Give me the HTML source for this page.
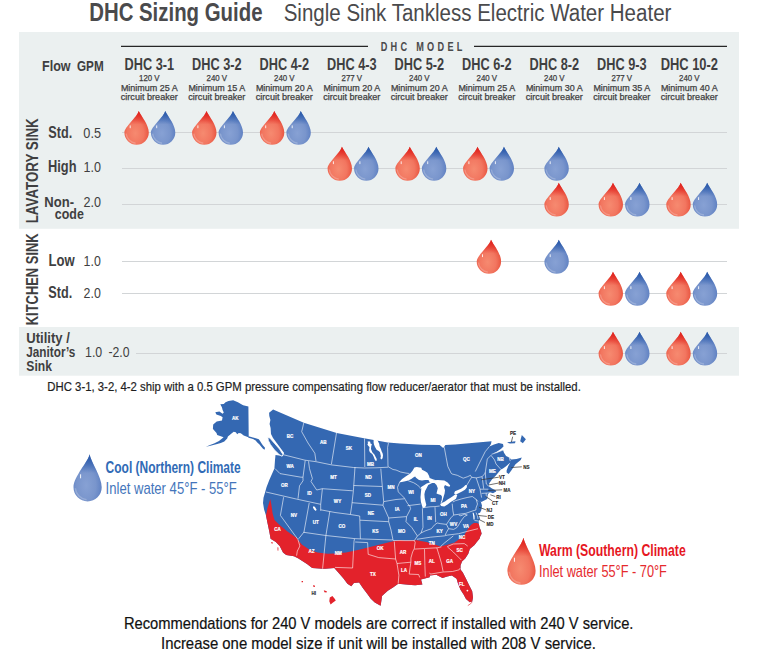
<!DOCTYPE html>
<html><head><meta charset="utf-8"><style>
html,body{margin:0;padding:0;background:#fff;}
svg{display:block;font-family:"Liberation Sans", sans-serif;}
</style></head><body>
<svg width="767" height="653" viewBox="0 0 767 653">

<defs>
<radialGradient id="gR" cx="0.45" cy="0.66" r="0.62">
 <stop offset="0" stop-color="#f68a70"/><stop offset="0.55" stop-color="#f27660"/><stop offset="0.85" stop-color="#ea5a45"/><stop offset="1" stop-color="#df4434"/>
</radialGradient>
<radialGradient id="gB" cx="0.45" cy="0.66" r="0.62">
 <stop offset="0" stop-color="#87a1d4"/><stop offset="0.55" stop-color="#7995cc"/><stop offset="0.85" stop-color="#6384c4"/><stop offset="1" stop-color="#4c72b7"/>
</radialGradient>
<linearGradient id="tR" x1="0" y1="0" x2="0" y2="1">
 <stop offset="0" stop-color="#e2231f" stop-opacity="1"/><stop offset="0.12" stop-color="#e2231f" stop-opacity="0.8"/><stop offset="0.4" stop-color="#e2231f" stop-opacity="0"/>
</linearGradient>
<linearGradient id="tB" x1="0" y1="0" x2="0" y2="1">
 <stop offset="0" stop-color="#2a5aab" stop-opacity="1"/><stop offset="0.12" stop-color="#2a5aab" stop-opacity="0.8"/><stop offset="0.4" stop-color="#2a5aab" stop-opacity="0"/>
</linearGradient>
<g id="dr"><path d="M2.1,-21.7 C1.1,-16 -12.2,-6 -12.2,0 A12.2,12.2 0 0 0 12.2,0 C12.2,-8 5.4,-15 2.1,-21.7 Z" fill="url(#gR)"/><path d="M2.1,-21.7 C1.1,-16 -12.2,-6 -12.2,0 A12.2,12.2 0 0 0 12.2,0 C12.2,-8 5.4,-15 2.1,-21.7 Z" fill="url(#tR)"/><path d="M-10.5,1 A10.8,10.8 0 0 0 -1,10.6" fill="none" stroke="#fff" stroke-opacity="0.22" stroke-width="1.4"/><rect x="-6.9" y="-7.2" width="1" height="2.8" fill="#fff" opacity="0.85"/></g>
<g id="db"><path d="M2.1,-21.7 C1.1,-16 -12.2,-6 -12.2,0 A12.2,12.2 0 0 0 12.2,0 C12.2,-8 5.4,-15 2.1,-21.7 Z" fill="url(#gB)"/><path d="M2.1,-21.7 C1.1,-16 -12.2,-6 -12.2,0 A12.2,12.2 0 0 0 12.2,0 C12.2,-8 5.4,-15 2.1,-21.7 Z" fill="url(#tB)"/><path d="M-10.5,1 A10.8,10.8 0 0 0 -1,10.6" fill="none" stroke="#fff" stroke-opacity="0.22" stroke-width="1.4"/><rect x="-6.9" y="-7.2" width="1" height="2.8" fill="#fff" opacity="0.85"/></g>
<g id="drL"><path d="M1.9,-33.1 C1.2,-26 -14.1,-11 -14.1,0 A14.1,14.1 0 0 0 14.1,0 C14.1,-11 3.4,-25 1.9,-33.1 Z" fill="url(#gR)"/><path d="M1.9,-33.1 C1.2,-26 -14.1,-11 -14.1,0 A14.1,14.1 0 0 0 14.1,0 C14.1,-11 3.4,-25 1.9,-33.1 Z" fill="url(#tR)"/><path d="M-12.3,1 A12.5,12.5 0 0 0 -1,12.4" fill="none" stroke="#fff" stroke-opacity="0.22" stroke-width="1.6"/><rect x="-7.6" y="-13" width="1.1" height="4" fill="#fff" opacity="0.85"/></g>
<g id="dbL"><path d="M1.9,-33.1 C1.2,-26 -14.1,-11 -14.1,0 A14.1,14.1 0 0 0 14.1,0 C14.1,-11 3.4,-25 1.9,-33.1 Z" fill="url(#gB)"/><path d="M1.9,-33.1 C1.2,-26 -14.1,-11 -14.1,0 A14.1,14.1 0 0 0 14.1,0 C14.1,-11 3.4,-25 1.9,-33.1 Z" fill="url(#tB)"/><path d="M-12.3,1 A12.5,12.5 0 0 0 -1,12.4" fill="none" stroke="#fff" stroke-opacity="0.22" stroke-width="1.6"/><rect x="-7.6" y="-13" width="1.1" height="4" fill="#fff" opacity="0.85"/></g>
<clipPath id="landclip"><path d="M273.1,409.5 L303.8,422.8 L336.7,432.9 L364.0,438.3 L387.8,442.5 L400.0,443.4 L421.7,444.8 L439.6,445.1 L443.2,448.0 L445.4,445.1 L455.0,444.4 L491.5,441.3 L491.0,443.9 L489.4,446.5 L494.0,444.5 L498.8,443.1 L503.0,443.9 L503.5,446.5 L500.9,449.1 L496.7,451.7 L493.0,453.5 L497.0,452.5 L503.0,450.1 L504.0,452.7 L506.1,455.9 L509.2,457.4 L511.3,459.5 L516.5,459.0 L521.8,457.4 L520.7,460.0 L515.5,464.2 L511.3,470.5 L508.7,474.1 L506.6,472.5 L506.6,470.5 L508.2,466.3 L510.3,462.5 L506.1,466.3 L503.0,468.4 L500.9,469.4 L498.8,472.0 L495.7,475.7 L492.5,478.8 L489.4,483.0 L488.5,486.0 L492.0,488.5 L495.6,490.3 L496.2,491.6 L493.0,493.2 L489.8,492.2 L487.8,494.5 L487.2,499.0 L481.3,502.0 L480.6,501.0 L482.0,505.6 L481.3,510.2 L480.0,512.8 L478.0,513.4 L480.0,518.6 L478.7,521.2 L478.8,523.7 L479.5,527.3 L480.9,530.8 L481.6,533.7 L480.2,536.6 L479.5,538.7 L476.6,542.3 L474.5,545.0 L469.8,549.0 L468.3,553.8 L465.2,558.4 L462.0,561.6 L460.5,565.5 L460.5,569.4 L462.8,572.5 L466.0,578.8 L469.0,585.0 L472.2,591.2 L473.0,597.5 L472.2,601.4 L469.8,602.2 L466.0,599.0 L463.6,594.4 L460.5,589.7 L458.0,583.4 L456.6,578.8 L451.9,575.6 L447.2,576.4 L442.5,578.0 L436.2,574.8 L430.0,575.6 L429.6,577.3 L421.0,579.5 L422.4,584.5 L415.2,585.2 L411.3,585.0 L403.4,584.3 L398.2,583.7 L393.0,587.6 L387.8,590.8 L382.0,596.0 L381.3,601.3 L380.6,605.8 L374.8,602.6 L370.8,598.7 L367.0,593.5 L363.0,588.2 L359.1,582.4 L353.9,583.0 L351.3,586.3 L347.4,583.7 L343.5,578.5 L339.6,573.9 L334.3,568.0 L325.2,568.7 L322.6,568.7 L312.2,568.0 L307.0,564.1 L298.0,558.3 L294.0,556.3 L286.2,555.0 L283.0,552.4 L279.7,546.0 L275.8,542.0 L270.6,538.8 L269.3,531.6 L267.4,522.5 L266.0,515.4 L264.1,509.5 L263.0,503.0 L263.5,497.8 L265.4,491.3 L266.5,487.2 L269.3,480.0 L274.4,468.6 L275.0,460.0 L275.5,455.0 L283.0,456.0 L284.1,453.0 L280.8,448.5 L276.9,443.2 L273.0,438.0 L271.0,434.1 L270.6,428.0 L269.6,424.0 L270.4,420.0 L269.3,416.0 L269.1,412.8 Z"/></clipPath>
</defs>

<rect x="0" y="0" width="767" height="653" fill="#fff"/>
<rect x="19" y="32" width="720" height="196.8" fill="#ebf0f0"/>
<rect x="19" y="327" width="720" height="48.7" fill="#ebf0f0"/>
<text x="89.2" y="20.6" font-size="25.4" font-weight="bold" fill="#4a4a4c" textLength="173.3" lengthAdjust="spacingAndGlyphs">DHC Sizing Guide</text>
<text x="283.7" y="20.9" font-size="23.1" fill="#4a4a4c" textLength="387.7" lengthAdjust="spacingAndGlyphs">Single Sink Tankless Electric Water Heater</text>
<line x1="121" y1="46.4" x2="368" y2="46.4" stroke="#262626" stroke-width="1.3"/>
<line x1="474" y1="46.4" x2="727" y2="46.4" stroke="#262626" stroke-width="1.3"/>
<text x="380.7" y="50.7" font-size="12.6" font-weight="bold" fill="#4a4a4c" textLength="85.0" lengthAdjust="spacingAndGlyphs" letter-spacing="4.5">DHC MODEL</text>
<text x="42.0" y="70.6" font-size="15" font-weight="bold" fill="#3f3f41" textLength="28.6" lengthAdjust="spacingAndGlyphs">Flow</text>
<text x="77.0" y="70.6" font-size="15" font-weight="bold" fill="#3f3f41" textLength="26.7" lengthAdjust="spacingAndGlyphs">GPM</text>
<text x="149.3" y="69.9" font-size="16" font-weight="bold" fill="#3f3f41" text-anchor="middle" textLength="49.5" lengthAdjust="spacingAndGlyphs">DHC 3-1</text>
<text x="149.3" y="80.9" font-size="8.6" fill="#3f3f41" text-anchor="middle" textLength="20.6" lengthAdjust="spacingAndGlyphs" stroke="#3f3f41" stroke-width="0.25">120 V</text>
<text x="149.3" y="90.7" font-size="8.6" fill="#3f3f41" text-anchor="middle" textLength="56.8" lengthAdjust="spacingAndGlyphs" stroke="#3f3f41" stroke-width="0.25">Minimum 25 A</text>
<text x="149.3" y="99.5" font-size="8.6" fill="#3f3f41" text-anchor="middle" textLength="57.0" lengthAdjust="spacingAndGlyphs" stroke="#3f3f41" stroke-width="0.25">circuit breaker</text>
<text x="216.8" y="69.9" font-size="16" font-weight="bold" fill="#3f3f41" text-anchor="middle" textLength="49.5" lengthAdjust="spacingAndGlyphs">DHC 3-2</text>
<text x="216.8" y="80.9" font-size="8.6" fill="#3f3f41" text-anchor="middle" textLength="20.6" lengthAdjust="spacingAndGlyphs" stroke="#3f3f41" stroke-width="0.25">240 V</text>
<text x="216.8" y="90.7" font-size="8.6" fill="#3f3f41" text-anchor="middle" textLength="56.8" lengthAdjust="spacingAndGlyphs" stroke="#3f3f41" stroke-width="0.25">Minimum 15 A</text>
<text x="216.8" y="99.5" font-size="8.6" fill="#3f3f41" text-anchor="middle" textLength="57.0" lengthAdjust="spacingAndGlyphs" stroke="#3f3f41" stroke-width="0.25">circuit breaker</text>
<text x="284.3" y="69.9" font-size="16" font-weight="bold" fill="#3f3f41" text-anchor="middle" textLength="49.5" lengthAdjust="spacingAndGlyphs">DHC 4-2</text>
<text x="284.3" y="80.9" font-size="8.6" fill="#3f3f41" text-anchor="middle" textLength="20.6" lengthAdjust="spacingAndGlyphs" stroke="#3f3f41" stroke-width="0.25">240 V</text>
<text x="284.3" y="90.7" font-size="8.6" fill="#3f3f41" text-anchor="middle" textLength="56.8" lengthAdjust="spacingAndGlyphs" stroke="#3f3f41" stroke-width="0.25">Minimum 20 A</text>
<text x="284.3" y="99.5" font-size="8.6" fill="#3f3f41" text-anchor="middle" textLength="57.0" lengthAdjust="spacingAndGlyphs" stroke="#3f3f41" stroke-width="0.25">circuit breaker</text>
<text x="351.8" y="69.9" font-size="16" font-weight="bold" fill="#3f3f41" text-anchor="middle" textLength="49.5" lengthAdjust="spacingAndGlyphs">DHC 4-3</text>
<text x="351.8" y="80.9" font-size="8.6" fill="#3f3f41" text-anchor="middle" textLength="20.6" lengthAdjust="spacingAndGlyphs" stroke="#3f3f41" stroke-width="0.25">277 V</text>
<text x="351.8" y="90.7" font-size="8.6" fill="#3f3f41" text-anchor="middle" textLength="56.8" lengthAdjust="spacingAndGlyphs" stroke="#3f3f41" stroke-width="0.25">Minimum 20 A</text>
<text x="351.8" y="99.5" font-size="8.6" fill="#3f3f41" text-anchor="middle" textLength="57.0" lengthAdjust="spacingAndGlyphs" stroke="#3f3f41" stroke-width="0.25">circuit breaker</text>
<text x="419.3" y="69.9" font-size="16" font-weight="bold" fill="#3f3f41" text-anchor="middle" textLength="49.5" lengthAdjust="spacingAndGlyphs">DHC 5-2</text>
<text x="419.3" y="80.9" font-size="8.6" fill="#3f3f41" text-anchor="middle" textLength="20.6" lengthAdjust="spacingAndGlyphs" stroke="#3f3f41" stroke-width="0.25">240 V</text>
<text x="419.3" y="90.7" font-size="8.6" fill="#3f3f41" text-anchor="middle" textLength="56.8" lengthAdjust="spacingAndGlyphs" stroke="#3f3f41" stroke-width="0.25">Minimum 20 A</text>
<text x="419.3" y="99.5" font-size="8.6" fill="#3f3f41" text-anchor="middle" textLength="57.0" lengthAdjust="spacingAndGlyphs" stroke="#3f3f41" stroke-width="0.25">circuit breaker</text>
<text x="486.8" y="69.9" font-size="16" font-weight="bold" fill="#3f3f41" text-anchor="middle" textLength="49.5" lengthAdjust="spacingAndGlyphs">DHC 6-2</text>
<text x="486.8" y="80.9" font-size="8.6" fill="#3f3f41" text-anchor="middle" textLength="20.6" lengthAdjust="spacingAndGlyphs" stroke="#3f3f41" stroke-width="0.25">240 V</text>
<text x="486.8" y="90.7" font-size="8.6" fill="#3f3f41" text-anchor="middle" textLength="56.8" lengthAdjust="spacingAndGlyphs" stroke="#3f3f41" stroke-width="0.25">Minimum 25 A</text>
<text x="486.8" y="99.5" font-size="8.6" fill="#3f3f41" text-anchor="middle" textLength="57.0" lengthAdjust="spacingAndGlyphs" stroke="#3f3f41" stroke-width="0.25">circuit breaker</text>
<text x="554.3" y="69.9" font-size="16" font-weight="bold" fill="#3f3f41" text-anchor="middle" textLength="49.5" lengthAdjust="spacingAndGlyphs">DHC 8-2</text>
<text x="554.3" y="80.9" font-size="8.6" fill="#3f3f41" text-anchor="middle" textLength="20.6" lengthAdjust="spacingAndGlyphs" stroke="#3f3f41" stroke-width="0.25">240 V</text>
<text x="554.3" y="90.7" font-size="8.6" fill="#3f3f41" text-anchor="middle" textLength="56.8" lengthAdjust="spacingAndGlyphs" stroke="#3f3f41" stroke-width="0.25">Minimum 30 A</text>
<text x="554.3" y="99.5" font-size="8.6" fill="#3f3f41" text-anchor="middle" textLength="57.0" lengthAdjust="spacingAndGlyphs" stroke="#3f3f41" stroke-width="0.25">circuit breaker</text>
<text x="621.8" y="69.9" font-size="16" font-weight="bold" fill="#3f3f41" text-anchor="middle" textLength="49.5" lengthAdjust="spacingAndGlyphs">DHC 9-3</text>
<text x="621.8" y="80.9" font-size="8.6" fill="#3f3f41" text-anchor="middle" textLength="20.6" lengthAdjust="spacingAndGlyphs" stroke="#3f3f41" stroke-width="0.25">277 V</text>
<text x="621.8" y="90.7" font-size="8.6" fill="#3f3f41" text-anchor="middle" textLength="56.8" lengthAdjust="spacingAndGlyphs" stroke="#3f3f41" stroke-width="0.25">Minimum 35 A</text>
<text x="621.8" y="99.5" font-size="8.6" fill="#3f3f41" text-anchor="middle" textLength="57.0" lengthAdjust="spacingAndGlyphs" stroke="#3f3f41" stroke-width="0.25">circuit breaker</text>
<text x="689.3" y="69.9" font-size="16" font-weight="bold" fill="#3f3f41" text-anchor="middle" textLength="57.3" lengthAdjust="spacingAndGlyphs">DHC 10-2</text>
<text x="689.3" y="80.9" font-size="8.6" fill="#3f3f41" text-anchor="middle" textLength="20.6" lengthAdjust="spacingAndGlyphs" stroke="#3f3f41" stroke-width="0.25">240 V</text>
<text x="689.3" y="90.7" font-size="8.6" fill="#3f3f41" text-anchor="middle" textLength="56.8" lengthAdjust="spacingAndGlyphs" stroke="#3f3f41" stroke-width="0.25">Minimum 40 A</text>
<text x="689.3" y="99.5" font-size="8.6" fill="#3f3f41" text-anchor="middle" textLength="57.0" lengthAdjust="spacingAndGlyphs" stroke="#3f3f41" stroke-width="0.25">circuit breaker</text>
<line x1="122" y1="132.5" x2="727" y2="132.5" stroke="#d2d5d7" stroke-width="1.1"/>
<line x1="122" y1="168.5" x2="727" y2="168.5" stroke="#d2d5d7" stroke-width="1.1"/>
<line x1="122" y1="204.5" x2="727" y2="204.5" stroke="#d2d5d7" stroke-width="1.1"/>
<line x1="122" y1="261.5" x2="727" y2="261.5" stroke="#d2d5d7" stroke-width="1.1"/>
<line x1="122" y1="293.5" x2="727" y2="293.5" stroke="#d2d5d7" stroke-width="1.1"/>
<line x1="136" y1="353.5" x2="727" y2="353.5" stroke="#d2d5d7" stroke-width="1.1"/>
<text transform="translate(38.3,170.8) rotate(-90)" x="0" y="0" font-size="16" font-weight="bold" fill="#3f3f41" text-anchor="middle" textLength="105" lengthAdjust="spacingAndGlyphs">LAVATORY SINK</text>
<text transform="translate(38.3,279.3) rotate(-90)" x="0" y="0" font-size="16" font-weight="bold" fill="#3f3f41" text-anchor="middle" textLength="92" lengthAdjust="spacingAndGlyphs">KITCHEN SINK</text>
<text x="48.3" y="138.0" font-size="16" font-weight="bold" fill="#3f3f41" textLength="23.9" lengthAdjust="spacingAndGlyphs">Std.</text>
<text x="83.3" y="138.0" font-size="14.7" fill="#3f3f41" textLength="17.7" lengthAdjust="spacingAndGlyphs">0.5</text>
<text x="48.0" y="171.6" font-size="16" font-weight="bold" fill="#3f3f41" textLength="28.5" lengthAdjust="spacingAndGlyphs">High</text>
<text x="83.5" y="171.6" font-size="14.7" fill="#3f3f41" textLength="17.5" lengthAdjust="spacingAndGlyphs">1.0</text>
<text x="44.3" y="207.4" font-size="14.8" font-weight="bold" fill="#3f3f41" textLength="29.7" lengthAdjust="spacingAndGlyphs">Non-</text>
<text x="54.8" y="218.5" font-size="14.8" font-weight="bold" fill="#3f3f41" textLength="29.0" lengthAdjust="spacingAndGlyphs">code</text>
<text x="83.5" y="207.4" font-size="14.7" fill="#3f3f41" textLength="17.5" lengthAdjust="spacingAndGlyphs">2.0</text>
<text x="48.6" y="266.0" font-size="16" font-weight="bold" fill="#3f3f41" textLength="26.2" lengthAdjust="spacingAndGlyphs">Low</text>
<text x="83.6" y="266.0" font-size="14.7" fill="#3f3f41" textLength="17.2" lengthAdjust="spacingAndGlyphs">1.0</text>
<text x="48.3" y="297.9" font-size="16" font-weight="bold" fill="#3f3f41" textLength="23.9" lengthAdjust="spacingAndGlyphs">Std.</text>
<text x="83.6" y="297.9" font-size="14.7" fill="#3f3f41" textLength="17.2" lengthAdjust="spacingAndGlyphs">2.0</text>
<text x="26.3" y="342.9" font-size="14.6" font-weight="bold" fill="#3f3f41" textLength="43.6" lengthAdjust="spacingAndGlyphs">Utility /</text>
<text x="26.3" y="356.6" font-size="14.6" font-weight="bold" fill="#3f3f41" textLength="49.0" lengthAdjust="spacingAndGlyphs">Janitor’s</text>
<text x="26.3" y="371.4" font-size="14.6" font-weight="bold" fill="#3f3f41" textLength="25.6" lengthAdjust="spacingAndGlyphs">Sink</text>
<text x="85.0" y="356.5" font-size="14.7" fill="#3f3f41" textLength="17.2" lengthAdjust="spacingAndGlyphs">1.0</text>
<text x="108.4" y="356.5" font-size="14.7" fill="#3f3f41" textLength="21.1" lengthAdjust="spacingAndGlyphs">-2.0</text>
<use href="#dr" x="136.6" y="132.6"/>
<use href="#db" x="163.1" y="132.6"/>
<use href="#dr" x="204.3" y="132.6"/>
<use href="#db" x="230.8" y="132.6"/>
<use href="#dr" x="272.1" y="132.6"/>
<use href="#db" x="298.6" y="132.6"/>
<use href="#dr" x="339.8" y="168.5"/>
<use href="#db" x="366.3" y="168.5"/>
<use href="#dr" x="407.6" y="168.5"/>
<use href="#db" x="434.1" y="168.5"/>
<use href="#dr" x="475.3" y="168.5"/>
<use href="#db" x="501.8" y="168.5"/>
<use href="#db" x="556.6" y="168.5"/>
<use href="#dr" x="556.6" y="204.4"/>
<use href="#dr" x="610.8" y="204.4"/>
<use href="#db" x="637.3" y="204.4"/>
<use href="#dr" x="678.5" y="204.4"/>
<use href="#db" x="705.0" y="204.4"/>
<use href="#dr" x="488.9" y="261.5"/>
<use href="#db" x="556.6" y="261.5"/>
<use href="#dr" x="610.8" y="293.5"/>
<use href="#db" x="637.3" y="293.5"/>
<use href="#dr" x="678.5" y="293.5"/>
<use href="#db" x="705.0" y="293.5"/>
<use href="#dr" x="610.8" y="353.4"/>
<use href="#db" x="637.3" y="353.4"/>
<use href="#dr" x="678.5" y="353.4"/>
<use href="#db" x="705.0" y="353.4"/>
<text x="47.3" y="391.0" font-size="13" fill="#1e1e1e" textLength="533.5" lengthAdjust="spacingAndGlyphs" stroke="#1e1e1e" stroke-width="0.2">DHC 3-1, 3-2, 4-2 ship with a 0.5 GPM pressure compensating flow reducer/aerator that must be installed.</text>
<use href="#dbL" x="87.6" y="487.3"/>
<use href="#drL" x="521.5" y="570.75"/>
<text x="105.6" y="472.6" font-size="15.6" font-weight="bold" fill="#316bb6" textLength="135.1" lengthAdjust="spacingAndGlyphs">Cool (Northern) Climate</text>
<text x="105.6" y="493.5" font-size="15.7" fill="#4475bb" textLength="131.2" lengthAdjust="spacingAndGlyphs">Inlet water 45°F - 55°F</text>
<text x="539.0" y="556.0" font-size="15.6" font-weight="bold" fill="#e6171f" textLength="146.7" lengthAdjust="spacingAndGlyphs">Warm (Southern) Climate</text>
<text x="539.0" y="577.0" font-size="15.7" fill="#e52a2e" textLength="127.9" lengthAdjust="spacingAndGlyphs">Inlet water 55°F - 70°F</text>
<text x="378.7" y="629.4" font-size="17" fill="#111" text-anchor="middle" textLength="509.5" lengthAdjust="spacingAndGlyphs" stroke="#111" stroke-width="0.2">Recommendations for 240 V models are correct if installed with 240 V service.</text>
<text x="378.5" y="648.7" font-size="17" fill="#111" text-anchor="middle" textLength="435.0" lengthAdjust="spacingAndGlyphs" stroke="#111" stroke-width="0.2">Increase one model size if unit will be installed with 208 V service.</text>
<path d="M233.2,400.2 L237.9,402.3 L243.1,405.2 L248.4,406.4 L248.7,436.5 L249.0,437.4 L243.7,435.4 L240.8,433.2 L238.7,432.9 L237.2,434.3 L235.8,432.2 L233.7,431.8 L231.5,433.6 L227.9,436.5 L227.2,438.6 L224.3,441.5 L220.8,442.9 L217.2,444.0 L214.3,444.7 L211.4,445.4 L206.0,446.8 L210.0,445.0 L214.0,443.5 L219.0,441.0 L223.6,437.2 L221.5,436.5 L217.2,435.0 L216.5,432.9 L213.2,429.3 L212.9,428.7 L213.2,424.6 L216.7,421.6 L222.0,420.5 L222.6,417.2 L220.8,416.1 L216.4,414.6 L215.3,412.3 L219.4,411.4 L222.6,413.7 L223.8,412.6 L222.6,409.9 L222.0,407.6 L220.3,404.3 L223.8,404.0 L225.5,402.3 L228.5,401.1 Z" fill="#3468b2"/>
<path d="M248.5,436.2 L253.0,437.6 L256.6,438.4 L258.8,439.2 L260.2,441.3 L261.6,443.4 L263.0,445.6 L265.0,447.8 L264.6,449.8 L263.0,448.8 L261.3,446.7 L259.5,444.6 L257.3,442.4 L255.6,440.6 L253.0,439.0 L248.5,437.8 Z" fill="#3468b2"/>
<path d="M273.1,409.5 L303.8,422.8 L336.7,432.9 L364.0,438.3 L387.8,442.5 L400.0,443.4 L421.7,444.8 L439.6,445.1 L443.2,448.0 L445.4,445.1 L455.0,444.4 L491.5,441.3 L491.0,443.9 L489.4,446.5 L494.0,444.5 L498.8,443.1 L503.0,443.9 L503.5,446.5 L500.9,449.1 L496.7,451.7 L493.0,453.5 L497.0,452.5 L503.0,450.1 L504.0,452.7 L506.1,455.9 L509.2,457.4 L511.3,459.5 L516.5,459.0 L521.8,457.4 L520.7,460.0 L515.5,464.2 L511.3,470.5 L508.7,474.1 L506.6,472.5 L506.6,470.5 L508.2,466.3 L510.3,462.5 L506.1,466.3 L503.0,468.4 L500.9,469.4 L498.8,472.0 L495.7,475.7 L492.5,478.8 L489.4,483.0 L488.5,486.0 L492.0,488.5 L495.6,490.3 L496.2,491.6 L493.0,493.2 L489.8,492.2 L487.8,494.5 L487.2,499.0 L481.3,502.0 L480.6,501.0 L482.0,505.6 L481.3,510.2 L480.0,512.8 L478.0,513.4 L480.0,518.6 L478.7,521.2 L478.8,523.7 L479.5,527.3 L480.9,530.8 L481.6,533.7 L480.2,536.6 L479.5,538.7 L476.6,542.3 L474.5,545.0 L469.8,549.0 L468.3,553.8 L465.2,558.4 L462.0,561.6 L460.5,565.5 L460.5,569.4 L462.8,572.5 L466.0,578.8 L469.0,585.0 L472.2,591.2 L473.0,597.5 L472.2,601.4 L469.8,602.2 L466.0,599.0 L463.6,594.4 L460.5,589.7 L458.0,583.4 L456.6,578.8 L451.9,575.6 L447.2,576.4 L442.5,578.0 L436.2,574.8 L430.0,575.6 L429.6,577.3 L421.0,579.5 L422.4,584.5 L415.2,585.2 L411.3,585.0 L403.4,584.3 L398.2,583.7 L393.0,587.6 L387.8,590.8 L382.0,596.0 L381.3,601.3 L380.6,605.8 L374.8,602.6 L370.8,598.7 L367.0,593.5 L363.0,588.2 L359.1,582.4 L353.9,583.0 L351.3,586.3 L347.4,583.7 L343.5,578.5 L339.6,573.9 L334.3,568.0 L325.2,568.7 L322.6,568.7 L312.2,568.0 L307.0,564.1 L298.0,558.3 L294.0,556.3 L286.2,555.0 L283.0,552.4 L279.7,546.0 L275.8,542.0 L270.6,538.8 L269.3,531.6 L267.4,522.5 L266.0,515.4 L264.1,509.5 L263.0,503.0 L263.5,497.8 L265.4,491.3 L266.5,487.2 L269.3,480.0 L274.4,468.6 L275.0,460.0 L275.5,455.0 L283.0,456.0 L284.1,453.0 L280.8,448.5 L276.9,443.2 L273.0,438.0 L271.0,434.1 L270.6,428.0 L269.6,424.0 L270.4,420.0 L269.3,416.0 L269.1,412.8 Z" fill="#3468b2"/>
<path d="M267.8,437.4 L269.8,438.0 L275.0,443.9 L279.5,449.1 L282.8,454.3 L282.1,456.3 L278.9,454.3 L274.3,449.8 L270.4,444.5 L268.4,440.6 Z" fill="#3468b2" stroke="#fff" stroke-width="0.8"/>
<path d="M521.8,435.0 L525.9,439.2 L522.8,443.3 L520.2,441.3 Z" fill="#3468b2"/>
<path d="M507.2,442.3 L511.0,441.8 L515.5,441.3 L515.0,443.3 L510.0,443.6 L508.2,443.1 Z" fill="#3468b2"/>
<path d="M262.0,516.0 L266.0,515.4 L267.4,508.2 L270.3,499.1 L271.3,504.3 L272.6,513.4 L274.5,519.9 L279.0,524.5 L287.5,531.6 L296.6,538.1 L301.8,544.6 L309.6,549.8 L317.4,552.4 L327.8,553.7 L335.0,553.5 L346.0,552.4 L359.0,549.8 L372.0,546.5 L385.0,543.3 L393.0,541.3 L400.8,540.0 L405.0,540.4 L416.9,540.2 L426.2,541.9 L434.7,544.4 L440.6,546.5 L447.4,544.8 L454.2,542.7 L459.2,539.3 L464.3,535.1 L468.0,528.7 L470.9,525.1 L473.7,523.0 L476.6,523.0 L478.8,523.7 L490.0,524.0 L490.0,615.0 L255.0,615.0 Z" fill="#e3222b" clip-path="url(#landclip)"/>
<path d="M271.0,542.3 L273.0,542.5 L272.8,543.4 L271.2,543.2 Z" fill="#e3222b"/>
<path d="M277.5,547.3 L278.4,547.6 L278.3,550.8 L277.6,550.6 Z" fill="#e3222b"/>
<path d="M301.6,581.0 L303.0,581.0 L303.0,582.3 L301.6,582.3 Z" fill="#e3222b"/>
<path d="M313.0,585.3 L314.8,585.6 L315.0,587.0 L313.3,586.8 Z" fill="#e3222b"/>
<path d="M323.8,590.3 L326.8,591.2 L326.6,592.6 L324.4,592.2 Z" fill="#e3222b"/>
<path d="M329.8,597.4 L332.4,596.0 L334.5,598.5 L335.8,600.6 L333.0,602.6 L330.6,604.6 L329.3,601.3 Z" fill="#e3222b"/>
<path d="M399.4,481.9 L402.1,478.9 L406.0,476.2 L410.2,473.5 L412.5,470.8 L414.4,467.4 L416.7,467.0 L421.3,467.7 L422.0,469.7 L425.1,471.2 L427.4,472.7 L429.0,475.8 L429.7,478.1 L432.8,479.2 L436.0,480.2 L432.0,480.9 L428.2,480.1 L425.1,480.1 L422.0,480.5 L419.0,480.1 L416.0,477.7 L415.2,476.4 L414.0,477.1 L411.3,478.9 L408.3,480.4 L405.2,481.2 L400.6,482.3 Z" fill="#fff"/>
<path d="M429.0,482.7 L432.8,481.2 L433.5,482.2 L428.2,485.0 L426.7,488.0 L425.1,491.1 L424.4,494.2 L424.7,498.0 L425.5,501.8 L426.3,504.9 L425.1,507.2 L422.8,508.0 L422.0,505.7 L420.9,501.8 L420.5,497.2 L420.9,492.7 L421.3,488.8 L420.9,487.3 L422.0,486.5 L424.4,485.0 L426.7,483.5 Z" fill="#fff"/>
<path d="M428.0,478.6 L433.2,480.2 L437.8,479.9 L444.3,480.5 L447.6,482.5 L450.2,485.4 L449.5,486.7 L446.9,486.1 L445.0,485.1 L444.0,487.0 L445.0,490.3 L444.6,493.6 L443.6,496.8 L442.7,500.1 L442.0,502.0 L441.0,503.3 L440.7,502.7 L441.7,500.1 L442.0,496.8 L441.0,494.9 L438.4,494.2 L436.5,493.6 L437.1,491.0 L437.8,488.3 L436.5,485.1 L434.5,483.1 L431.9,483.1 L429.3,481.8 Z" fill="#fff"/>
<path d="M440.1,504.0 L441.0,506.0 L444.3,506.6 L447.6,504.6 L450.8,502.0 L454.1,500.1 L456.0,498.8 L457.3,494.9 L455.4,494.2 L452.8,496.2 L450.2,498.1 L447.6,499.4 L445.0,501.4 L442.3,502.7 Z" fill="#fff"/>
<path d="M454.0,493.5 L455.0,491.3 L458.0,490.0 L461.0,488.8 L463.5,487.0 L465.5,485.0 L467.0,485.3 L466.8,487.5 L465.0,489.8 L462.0,491.5 L459.0,493.0 L456.0,494.5 Z" fill="#fff"/>
<path d="M373.6,439.5 L377.0,439.5 L378.1,441.6 L379.2,443.7 L379.6,446.3 L380.9,448.9 L381.7,451.4 L382.6,453.2 L383.0,455.3 L382.6,458.3 L381.3,459.6 L380.4,458.3 L380.9,456.2 L380.4,454.0 L380.0,452.3 L378.7,451.0 L376.6,449.7 L374.9,446.7 L374.0,444.6 L373.6,442.4 Z" fill="#fff"/>
<path d="M367.6,441.6 L370.1,441.6 L370.6,443.7 L371.9,444.1 L371.2,446.3 L371.0,448.9 L372.3,452.3 L374.4,454.4 L375.3,456.2 L376.6,458.7 L376.8,460.4 L375.7,460.9 L374.6,459.2 L373.6,456.6 L372.3,454.0 L369.9,452.3 L369.1,450.2 L369.5,447.1 L368.4,445.9 L367.4,444.6 L368.0,443.3 Z" fill="#fff"/>
<path d="M313.2,506.2 L314.8,506.8 L316.6,509.8 L315.8,510.9 L314.0,509.5 L313.0,507.5 Z" fill="#fff"/>
<path d="M472.6,512.8 L473.6,512.8 L474.6,516.0 L474.6,519.5 L473.5,519.5 L473.2,516.0 Z" fill="#fff"/>
<circle cx="467.4" cy="590.6" r="0.9" fill="#fff"/>
<path d="M472.3,601.8 Q471,604 467.8,605.6" fill="none" stroke="#e3222b" stroke-width="0.6"/>
<path d="M303.8,422.8 L301.7,431.7 L308.0,443.0 L314.8,453.2 L316.0,461.1 M336.5,432.9 L331.4,464.3 M364.5,438.5 L364.8,467.0 M388.5,442.8 L387.6,447.3 L388.0,466.6 L393.0,469.5 L396.0,470.0 L400.6,472.0 L406.0,473.1 L409.4,473.5 M443.2,445.2 L444.4,448.0 L446.1,457.2 L447.8,466.4 L451.2,473.3 L452.1,474.0 L457.3,475.3 L463.2,478.2 L467.8,476.6 L470.4,475.3 M466.5,485.7 L470.4,479.2 L471.7,477.3 M470.4,475.3 L471.7,477.3 L476.2,477.9 L482.1,476.7 L485.2,473.1 L487.3,459.0 L491.0,455.3 M489.4,446.5 L485.2,451.7 L480.0,462.0 L475.3,471.5 M491.5,454.3 L497.0,452.5 L503.0,450.1 M491.0,455.3 L494.6,460.0 L496.0,464.0 L500.9,469.4 M509.2,457.4 L510.3,461.1 M283.7,454.8 L305.0,460.2 L316.0,461.7 L331.6,464.9 L353.6,467.5 L364.5,468.0 L376.0,467.8 L388.0,467.2 M275.0,468.6 L280.0,473.6 L300.9,477.2 L303.0,477.2 M305.2,460.5 L303.0,477.2 L303.0,480.8 L299.5,485.8 L298.0,498.7 M266.0,492.0 L296.6,499.1 L320.7,504.3 M308.5,461.3 L309.5,468.6 L312.4,478.6 L311.0,481.5 L316.7,490.0 L322.4,488.7 M322.4,488.7 L320.7,504.3 L320.7,510.8 M322.4,488.7 L352.8,490.8 M355.0,467.0 L353.4,490.8 L351.8,505.0 L350.4,514.5 M320.7,509.8 L335.0,512.5 L350.4,514.5 L359.7,516.0 L360.4,538.9 M309.2,503.0 L303.8,532.9 M283.6,497.2 L280.4,515.4 L297.9,539.4 L299.9,546.0 L297.3,551.1 L296.6,555.7 M298.6,538.8 L303.8,532.3 L325.9,535.5 M329.8,511.5 L325.9,535.5 L322.6,568.7 M325.9,535.5 L354.5,538.6 L360.4,538.9 L393.0,540.0 M354.5,538.6 L354.0,541.3 L352.6,568.0 L335.0,567.4 M355.2,542.0 L367.6,542.6 L368.2,554.3 L378.7,557.6 L395.6,559.0 M394.3,541.5 L395.6,559.0 L397.0,563.5 L398.9,575.2 L398.2,583.5 M388.7,521.7 L391.0,530.0 L393.0,540.0 M393.0,540.5 L405.0,540.6 L414.3,540.6 L415.2,542.3 L414.3,548.6 L412.6,552.0 L410.9,558.0 L410.9,562.2 L397.0,563.5 M360.0,520.2 L388.7,521.7 M352.0,502.7 L383.0,505.2 L388.7,518.0 L388.7,521.7 M353.6,485.5 L382.3,486.5 M380.8,468.6 L382.3,486.5 L383.7,501.6 L383.0,505.2 M383.7,501.6 L396.0,499.5 L404.4,498.8 M399.8,481.9 L397.5,487.3 L398.3,491.9 L402.1,495.7 L404.4,498.0 L405.2,499.5 L407.5,503.4 L409.8,506.1 L410.6,508.7 L409.5,511.0 L406.6,516.6 L406.0,521.7 L411.7,527.4 L417.4,536.0 L414.3,540.6 M388.7,518.0 L406.6,516.6 M407.5,505.7 L420.5,504.1 M408.3,480.8 L413.6,482.7 L417.5,485.0 L419.8,487.3 L420.5,488.8 M422.4,508.3 L423.0,527.4 L421.0,533.0 M422.6,507.8 L430.0,506.8 L435.0,506.6 L439.7,506.0 M435.0,507.2 L435.7,522.2 M417.4,536.0 L421.0,533.0 L425.0,531.0 L431.4,528.7 L434.3,525.1 L437.2,523.0 L440.8,523.7 L446.5,524.4 M452.2,503.6 L452.9,510.8 L453.7,515.0 M453.7,515.0 L450.8,517.9 L447.9,522.2 L446.5,524.4 L448.6,528.7 M448.6,528.7 L453.7,529.4 L457.2,527.3 L459.4,523.7 L461.6,520.1 L464.4,516.5 L467.3,515.0 M453.7,515.0 L458.7,514.3 L465.9,513.3 L473.0,510.8 L475.9,510.0 M458.7,515.0 L460.8,515.8 L464.4,514.3 L467.3,515.0 M448.6,528.7 L446.5,532.3 L445.1,535.1 M417.0,539.3 L430.4,537.2 L444.3,535.9 L447.4,535.1 L458.7,533.7 L469.4,530.8 L478.0,528.7 M453.3,535.9 L449.1,539.3 L444.8,542.7 L440.6,546.5 M414.3,549.1 L424.5,548.5 L437.2,547.8 L441.4,546.9 M447.4,546.5 L453.3,544.0 L464.3,543.6 L467.7,546.1 M447.4,546.9 L453.3,552.0 L458.4,557.1 L461.4,560.1 M436.8,547.8 L438.9,554.6 L441.4,563.0 L443.1,571.5 M424.5,549.1 L424.9,565.6 L425.3,576.6 M410.9,562.2 L410.1,567.3 L409.2,574.1 L418.6,574.5 L419.8,577.5 M429.6,572.8 L430.4,574.1 L443.1,572.0 L452.5,571.5 L459.2,569.8 L460.1,568.1 M452.8,502.0 L455.4,500.7 L461.9,498.8 L467.1,497.5 L472.3,496.5 L476.2,499.4 L478.0,501.4 M476.2,499.4 L477.5,504.0 L476.0,508.0 L475.9,510.0 M476.2,477.9 L480.0,489.2 L481.6,497.6 M482.1,476.7 L483.7,488.7 M485.2,472.5 L486.3,484.0 L488.5,486.0 M480.0,489.2 L488.4,489.2 M481.6,493.4 L489.4,492.9 M486.2,493.0 L486.2,497.0 M476.0,512.5 L477.5,516.0 L478.0,519.0 M474.5,520.5 L478.5,521.0" fill="none" stroke="#fff" stroke-width="0.7" stroke-linejoin="round" opacity="0.85"/>
<path d="M512.7,436.7 L511.4,442.0 M511.3,467.5 L521.8,466.8 M481.1,479.8 L498.8,477.2 M488.4,485.0 L498.8,483.0 M488.1,490.5 L502.2,489.8 M490.4,494.8 L495.3,496.5 M485.2,496.1 L492.4,501.0 M479.0,507.2 L485.9,509.8 M477.7,515.4 L486.8,516.4 M478.7,519.3 L484.9,522.5" fill="none" stroke="#333" stroke-width="0.7"/>
<text x="235.2" y="420.1" font-size="5.4" font-weight="bold" fill="#fff" stroke="#fff" stroke-width="0.22" text-anchor="middle" textLength="6.55" lengthAdjust="spacingAndGlyphs">AK</text>
<text x="290.1" y="438" font-size="5.4" font-weight="bold" fill="#fff" stroke="#fff" stroke-width="0.22" text-anchor="middle" textLength="6.55" lengthAdjust="spacingAndGlyphs">BC</text>
<text x="323.3" y="444" font-size="5.4" font-weight="bold" fill="#fff" stroke="#fff" stroke-width="0.22" text-anchor="middle" textLength="6.55" lengthAdjust="spacingAndGlyphs">AB</text>
<text x="349" y="450" font-size="5.4" font-weight="bold" fill="#fff" stroke="#fff" stroke-width="0.22" text-anchor="middle" textLength="6.30" lengthAdjust="spacingAndGlyphs">SK</text>
<text x="370.4" y="465.9" font-size="5.4" font-weight="bold" fill="#fff" stroke="#fff" stroke-width="0.22" text-anchor="middle" textLength="7.05" lengthAdjust="spacingAndGlyphs">MB</text>
<text x="418.5" y="457" font-size="5.4" font-weight="bold" fill="#fff" stroke="#fff" stroke-width="0.22" text-anchor="middle" textLength="6.80" lengthAdjust="spacingAndGlyphs">ON</text>
<text x="466.5" y="461" font-size="5.4" font-weight="bold" fill="#fff" stroke="#fff" stroke-width="0.22" text-anchor="middle" textLength="6.80" lengthAdjust="spacingAndGlyphs">QC</text>
<text x="500.4" y="461" font-size="5.4" font-weight="bold" fill="#fff" stroke="#fff" stroke-width="0.22" text-anchor="middle" textLength="6.55" lengthAdjust="spacingAndGlyphs">NB</text>
<text x="492.5" y="473" font-size="5.4" font-weight="bold" fill="#fff" stroke="#fff" stroke-width="0.22" text-anchor="middle" textLength="6.80" lengthAdjust="spacingAndGlyphs">ME</text>
<text x="290.1" y="467.7" font-size="5.4" font-weight="bold" fill="#fff" stroke="#fff" stroke-width="0.22" text-anchor="middle" textLength="7.31" lengthAdjust="spacingAndGlyphs">WA</text>
<text x="284.4" y="487" font-size="5.4" font-weight="bold" fill="#fff" stroke="#fff" stroke-width="0.22" text-anchor="middle" textLength="6.80" lengthAdjust="spacingAndGlyphs">OR</text>
<text x="309.6" y="495.3" font-size="5.4" font-weight="bold" fill="#fff" stroke="#fff" stroke-width="0.22" text-anchor="middle" textLength="4.54" lengthAdjust="spacingAndGlyphs">ID</text>
<text x="333.6" y="479.2" font-size="5.4" font-weight="bold" fill="#fff" stroke="#fff" stroke-width="0.22" text-anchor="middle" textLength="6.55" lengthAdjust="spacingAndGlyphs">MT</text>
<text x="337.5" y="502.9" font-size="5.4" font-weight="bold" fill="#fff" stroke="#fff" stroke-width="0.22" text-anchor="middle" textLength="7.31" lengthAdjust="spacingAndGlyphs">WY</text>
<text x="294" y="516.9" font-size="5.4" font-weight="bold" fill="#fff" stroke="#fff" stroke-width="0.22" text-anchor="middle" textLength="6.30" lengthAdjust="spacingAndGlyphs">NV</text>
<text x="315.8" y="523.8" font-size="5.4" font-weight="bold" fill="#fff" stroke="#fff" stroke-width="0.22" text-anchor="middle" textLength="6.05" lengthAdjust="spacingAndGlyphs">UT</text>
<text x="341.8" y="528" font-size="5.4" font-weight="bold" fill="#fff" stroke="#fff" stroke-width="0.22" text-anchor="middle" textLength="6.80" lengthAdjust="spacingAndGlyphs">CO</text>
<text x="277.5" y="531" font-size="5.4" font-weight="bold" fill="#fff" stroke="#fff" stroke-width="0.22" text-anchor="middle" textLength="6.55" lengthAdjust="spacingAndGlyphs">CA</text>
<text x="311.6" y="553" font-size="5.4" font-weight="bold" fill="#fff" stroke="#fff" stroke-width="0.22" text-anchor="middle" textLength="6.05" lengthAdjust="spacingAndGlyphs">AZ</text>
<text x="338.3" y="555" font-size="5.4" font-weight="bold" fill="#fff" stroke="#fff" stroke-width="0.22" text-anchor="middle" textLength="7.05" lengthAdjust="spacingAndGlyphs">NM</text>
<text x="368.4" y="479" font-size="5.4" font-weight="bold" fill="#fff" stroke="#fff" stroke-width="0.22" text-anchor="middle" textLength="6.55" lengthAdjust="spacingAndGlyphs">ND</text>
<text x="368" y="497" font-size="5.4" font-weight="bold" fill="#fff" stroke="#fff" stroke-width="0.22" text-anchor="middle" textLength="6.30" lengthAdjust="spacingAndGlyphs">SD</text>
<text x="370.8" y="515" font-size="5.4" font-weight="bold" fill="#fff" stroke="#fff" stroke-width="0.22" text-anchor="middle" textLength="6.30" lengthAdjust="spacingAndGlyphs">NE</text>
<text x="375.5" y="532.5" font-size="5.4" font-weight="bold" fill="#fff" stroke="#fff" stroke-width="0.22" text-anchor="middle" textLength="6.30" lengthAdjust="spacingAndGlyphs">KS</text>
<text x="380.2" y="550" font-size="5.4" font-weight="bold" fill="#fff" stroke="#fff" stroke-width="0.22" text-anchor="middle" textLength="6.80" lengthAdjust="spacingAndGlyphs">OK</text>
<text x="372.8" y="576" font-size="5.4" font-weight="bold" fill="#fff" stroke="#fff" stroke-width="0.22" text-anchor="middle" textLength="5.80" lengthAdjust="spacingAndGlyphs">TX</text>
<text x="390.9" y="489" font-size="5.4" font-weight="bold" fill="#fff" stroke="#fff" stroke-width="0.22" text-anchor="middle" textLength="7.05" lengthAdjust="spacingAndGlyphs">MN</text>
<text x="397.3" y="510.8" font-size="5.4" font-weight="bold" fill="#fff" stroke="#fff" stroke-width="0.22" text-anchor="middle" textLength="4.54" lengthAdjust="spacingAndGlyphs">IA</text>
<text x="401.6" y="533.2" font-size="5.4" font-weight="bold" fill="#fff" stroke="#fff" stroke-width="0.22" text-anchor="middle" textLength="7.31" lengthAdjust="spacingAndGlyphs">MO</text>
<text x="403" y="554.2" font-size="5.4" font-weight="bold" fill="#fff" stroke="#fff" stroke-width="0.22" text-anchor="middle" textLength="6.55" lengthAdjust="spacingAndGlyphs">AR</text>
<text x="404" y="572" font-size="5.4" font-weight="bold" fill="#fff" stroke="#fff" stroke-width="0.22" text-anchor="middle" textLength="6.05" lengthAdjust="spacingAndGlyphs">LA</text>
<text x="411" y="494.3" font-size="5.4" font-weight="bold" fill="#fff" stroke="#fff" stroke-width="0.22" text-anchor="middle" textLength="5.54" lengthAdjust="spacingAndGlyphs">WI</text>
<text x="415.7" y="520.8" font-size="5.4" font-weight="bold" fill="#fff" stroke="#fff" stroke-width="0.22" text-anchor="middle" textLength="4.03" lengthAdjust="spacingAndGlyphs">IL</text>
<text x="433" y="502" font-size="5.4" font-weight="bold" fill="#fff" stroke="#fff" stroke-width="0.22" text-anchor="middle" textLength="5.04" lengthAdjust="spacingAndGlyphs">MI</text>
<text x="429.6" y="520" font-size="5.4" font-weight="bold" fill="#fff" stroke="#fff" stroke-width="0.22" text-anchor="middle" textLength="4.54" lengthAdjust="spacingAndGlyphs">IN</text>
<text x="443.5" y="515.6" font-size="5.4" font-weight="bold" fill="#fff" stroke="#fff" stroke-width="0.22" text-anchor="middle" textLength="6.80" lengthAdjust="spacingAndGlyphs">OH</text>
<text x="439.6" y="533.2" font-size="5.4" font-weight="bold" fill="#fff" stroke="#fff" stroke-width="0.22" text-anchor="middle" textLength="6.30" lengthAdjust="spacingAndGlyphs">KY</text>
<text x="431.7" y="545.2" font-size="5.4" font-weight="bold" fill="#fff" stroke="#fff" stroke-width="0.22" text-anchor="middle" textLength="6.05" lengthAdjust="spacingAndGlyphs">TN</text>
<text x="418" y="565" font-size="5.4" font-weight="bold" fill="#fff" stroke="#fff" stroke-width="0.22" text-anchor="middle" textLength="6.80" lengthAdjust="spacingAndGlyphs">MS</text>
<text x="431.7" y="562.8" font-size="5.4" font-weight="bold" fill="#fff" stroke="#fff" stroke-width="0.22" text-anchor="middle" textLength="6.05" lengthAdjust="spacingAndGlyphs">AL</text>
<text x="449.6" y="562.8" font-size="5.4" font-weight="bold" fill="#fff" stroke="#fff" stroke-width="0.22" text-anchor="middle" textLength="6.80" lengthAdjust="spacingAndGlyphs">GA</text>
<text x="461.8" y="586.2" font-size="5.4" font-weight="bold" fill="#fff" stroke="#fff" stroke-width="0.22" text-anchor="middle" textLength="5.54" lengthAdjust="spacingAndGlyphs">FL</text>
<text x="459.7" y="552" font-size="5.4" font-weight="bold" fill="#fff" stroke="#fff" stroke-width="0.22" text-anchor="middle" textLength="6.30" lengthAdjust="spacingAndGlyphs">SC</text>
<text x="462" y="539" font-size="5.4" font-weight="bold" fill="#fff" stroke="#fff" stroke-width="0.22" text-anchor="middle" textLength="6.55" lengthAdjust="spacingAndGlyphs">NC</text>
<text x="466" y="527.8" font-size="5.4" font-weight="bold" fill="#fff" stroke="#fff" stroke-width="0.22" text-anchor="middle" textLength="5.96" lengthAdjust="spacingAndGlyphs">VA</text>
<text x="453.5" y="526.2" font-size="5.4" font-weight="bold" fill="#fff" stroke="#fff" stroke-width="0.22" text-anchor="middle" textLength="7.31" lengthAdjust="spacingAndGlyphs">WV</text>
<text x="464" y="507.8" font-size="5.4" font-weight="bold" fill="#fff" stroke="#fff" stroke-width="0.22" text-anchor="middle" textLength="5.96" lengthAdjust="spacingAndGlyphs">PA</text>
<text x="472" y="492.7" font-size="5.4" font-weight="bold" fill="#fff" stroke="#fff" stroke-width="0.22" text-anchor="middle" textLength="6.30" lengthAdjust="spacingAndGlyphs">NY</text>
<text x="513" y="435.2" font-size="5.4" font-weight="bold" fill="#2a2a2a" stroke="#2a2a2a" stroke-width="0.15" text-anchor="middle" textLength="6.05" lengthAdjust="spacingAndGlyphs">PE</text>
<text x="526.4" y="469" font-size="5.4" font-weight="bold" fill="#2a2a2a" stroke="#2a2a2a" stroke-width="0.15" text-anchor="middle" textLength="6.30" lengthAdjust="spacingAndGlyphs">NS</text>
<text x="502" y="478.5" font-size="5.4" font-weight="bold" fill="#2a2a2a" stroke="#2a2a2a" stroke-width="0.15" text-anchor="middle" textLength="5.80" lengthAdjust="spacingAndGlyphs">VT</text>
<text x="502" y="485.2" font-size="5.4" font-weight="bold" fill="#2a2a2a" stroke="#2a2a2a" stroke-width="0.15" text-anchor="middle" textLength="6.55" lengthAdjust="spacingAndGlyphs">NH</text>
<text x="507.1" y="492.3" font-size="5.4" font-weight="bold" fill="#2a2a2a" stroke="#2a2a2a" stroke-width="0.15" text-anchor="middle" textLength="7.05" lengthAdjust="spacingAndGlyphs">MA</text>
<text x="498.5" y="498.8" font-size="5.4" font-weight="bold" fill="#2a2a2a" stroke="#2a2a2a" stroke-width="0.15" text-anchor="middle" textLength="4.54" lengthAdjust="spacingAndGlyphs">RI</text>
<text x="495" y="505" font-size="5.4" font-weight="bold" fill="#2a2a2a" stroke="#2a2a2a" stroke-width="0.15" text-anchor="middle" textLength="6.05" lengthAdjust="spacingAndGlyphs">CT</text>
<text x="489.3" y="511.8" font-size="5.4" font-weight="bold" fill="#2a2a2a" stroke="#2a2a2a" stroke-width="0.15" text-anchor="middle" textLength="5.80" lengthAdjust="spacingAndGlyphs">NJ</text>
<text x="490.8" y="518.7" font-size="5.4" font-weight="bold" fill="#2a2a2a" stroke="#2a2a2a" stroke-width="0.15" text-anchor="middle" textLength="6.30" lengthAdjust="spacingAndGlyphs">DE</text>
<text x="490.1" y="525.7" font-size="5.4" font-weight="bold" fill="#2a2a2a" stroke="#2a2a2a" stroke-width="0.15" text-anchor="middle" textLength="7.05" lengthAdjust="spacingAndGlyphs">MD</text>
<text x="313.8" y="594.8" font-size="5.4" font-weight="bold" fill="#2a2a2a" stroke="#2a2a2a" stroke-width="0.15" text-anchor="middle" textLength="4.54" lengthAdjust="spacingAndGlyphs">HI</text>
</svg>
</body></html>
